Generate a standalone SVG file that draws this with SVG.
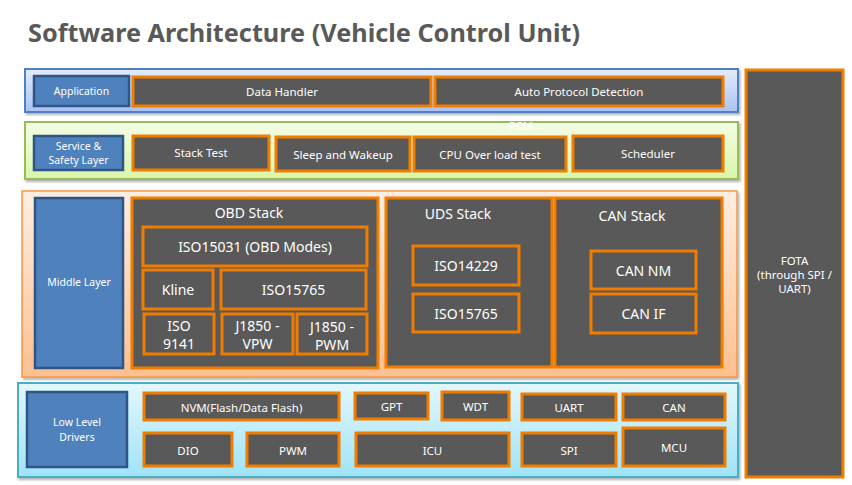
<svg xmlns="http://www.w3.org/2000/svg" width="852" height="485" viewBox="0 0 852 485">
<defs>
<linearGradient id="gApp" x1="0" y1="0" x2="0" y2="1"><stop offset="0" stop-color="#e3ecfd"/><stop offset="1" stop-color="#a8c3f3"/></linearGradient>
<linearGradient id="gSvc" x1="0" y1="0" x2="0" y2="1"><stop offset="0" stop-color="#f4fce6"/><stop offset="1" stop-color="#d9f6a9"/></linearGradient>
<linearGradient id="gMid" x1="0" y1="0" x2="0" y2="1"><stop offset="0" stop-color="#fdeee2"/><stop offset="1" stop-color="#fbc090"/></linearGradient>
<linearGradient id="gLow" x1="0" y1="0" x2="0" y2="1"><stop offset="0" stop-color="#e3f7fd"/><stop offset="1" stop-color="#9fe3f7"/></linearGradient>
<filter id="sh" x="-5%" y="-10%" width="110%" height="125%"><feDropShadow dx="1.5" dy="2" stdDeviation="1.2" flood-color="#000" flood-opacity="0.3"/></filter>
</defs>
<style>
.t{font-family:"Noto Sans","Open Sans","DejaVu Sans",sans-serif;fill:#ffffff;text-anchor:middle;dominant-baseline:central}
.s{font-size:11.5px}
.l{font-size:10.5px}
.m{font-size:14px}
.b{fill:#595959;stroke:#f07c00;stroke-width:3}
.lab{fill:#4f81bd;stroke:#2f5587;stroke-width:2.5}
</style>
<rect width="852" height="485" fill="#ffffff"/>
<text x="28" y="42" font-family="'Noto Sans','Open Sans',sans-serif" font-weight="bold" font-size="25" fill="#595959" textLength="552" lengthAdjust="spacingAndGlyphs">Software Architecture (Vehicle Control Unit)</text>

<g id="layer-application">
<rect x="25" y="69" width="713" height="43" fill="url(#gApp)" stroke="#4f81bd" stroke-width="2" filter="url(#sh)"/>
</g>
<g id="layer-service">
<rect x="25" y="122" width="713" height="57" fill="url(#gSvc)" stroke="#9bbb59" stroke-width="2" filter="url(#sh)"/>
</g>
<text class="t" x="521" y="125" font-size="11">PCM</text>
<g id="layer-middle">
<rect x="22" y="191" width="715" height="186" fill="url(#gMid)" stroke="#f79646" stroke-width="1.5" filter="url(#sh)"/>
</g>
<g id="layer-low">
<rect x="18" y="383" width="720" height="94" fill="url(#gLow)" stroke="#4bacc6" stroke-width="2" filter="url(#sh)"/>
</g>

<g id="application"><rect class="lab" x="34" y="76" width="95" height="30"/><text class="t l" x="81.5" y="91">Application</text></g>
<g id="data-handler"><rect class="b" x="133" y="77" width="298" height="29"/><text class="t s" x="282" y="91.5">Data Handler</text></g>
<g id="auto-protocol"><rect class="b" x="435" y="77" width="288" height="29"/><text class="t s" x="579" y="91.5">Auto Protocol Detection</text></g>

<g id="service-safety"><rect class="lab" x="34" y="136" width="89" height="34"/><text class="t l" x="78.5" y="146">Service &amp;</text><text class="t l" x="78.5" y="160">Safety Layer</text></g>
<g id="stack-test"><rect class="b" x="133" y="136" width="136" height="34"/><text class="t s" x="201" y="152.5">Stack Test</text></g>
<g id="sleep-wakeup"><rect class="b" x="276" y="137" width="134" height="34"/><text class="t s" x="343" y="154">Sleep and Wakeup</text></g>
<g id="cpu-overload"><rect class="b" x="414" y="137" width="152" height="34"/><text class="t s" x="490" y="154.5">CPU Over load test</text></g>
<g id="scheduler"><rect class="b" x="573" y="136" width="150" height="35"/><text class="t s" x="648" y="153.5">Scheduler</text></g>

<g id="fota"><rect class="b" x="746" y="70" width="97" height="407"/><text class="t s" x="794.5" y="260">FOTA</text><text class="t s" x="794.5" y="274">(through SPI /</text><text class="t s" x="794.5" y="288">UART)</text></g>

<g id="middle-layer"><rect class="lab" x="35" y="198" width="88" height="170"/><text class="t l" x="79" y="282">Middle Layer</text></g>
<g id="obd-stack"><rect class="b" x="132" y="198" width="246" height="170"/><text class="t m" x="249" y="212">OBD Stack</text></g>
<g id="iso15031"><rect class="b" x="143" y="227" width="224" height="39"/><text class="t m" x="255" y="246">ISO15031 (OBD Modes)</text></g>
<g id="kline"><rect class="b" x="143" y="270" width="70" height="39"/><text class="t m" x="178" y="289.5">Kline</text></g>
<g id="iso15765-obd"><rect class="b" x="221" y="270" width="145" height="39"/><text class="t m" x="293.5" y="289.5">ISO15765</text></g>
<g id="iso9141"><rect class="b" x="144" y="314" width="70" height="40"/><text class="t m" x="179" y="325">ISO</text><text class="t m" x="179" y="343">9141</text></g>
<g id="j1850-vpw"><rect class="b" x="222" y="314" width="71" height="40"/><text class="t m" x="257.5" y="325">J1850 -</text><text class="t m" x="257.5" y="343">VPW</text></g>
<g id="j1850-pwm"><rect class="b" x="297" y="314" width="70" height="40"/><text class="t m" x="332" y="326">J1850 -</text><text class="t m" x="332" y="344">PWM</text></g>

<g id="uds-stack"><rect class="b" x="386" y="198" width="166" height="169"/><text class="t m" x="458" y="213">UDS Stack</text></g>
<g id="iso14229"><rect class="b" x="413" y="246" width="106" height="39"/><text class="t m" x="466" y="265">ISO14229</text></g>
<g id="iso15765-uds"><rect class="b" x="413" y="294" width="106" height="38"/><text class="t m" x="466" y="313">ISO15765</text></g>
<g id="can-stack"><rect class="b" x="555" y="198" width="167" height="169"/><text class="t m" x="632" y="215">CAN Stack</text></g>
<g id="can-nm"><rect class="b" x="591" y="251" width="105" height="38"/><text class="t m" x="643.5" y="270">CAN NM</text></g>
<g id="can-if"><rect class="b" x="591" y="294" width="105" height="39"/><text class="t m" x="643.5" y="313">CAN IF</text></g>

<g id="low-level-drivers"><rect class="lab" x="27" y="392" width="100" height="75"/><text class="t l" x="77" y="422">Low Level</text><text class="t l" x="77" y="437">Drivers</text></g>
<g id="nvm"><rect class="b" x="144" y="393" width="195" height="27"/><text class="t s" x="241.5" y="407">NVM(Flash/Data Flash)</text></g>
<g id="gpt"><rect class="b" x="355" y="393" width="73" height="26"/><text class="t s" x="391.5" y="406">GPT</text></g>
<g id="wdt"><rect class="b" x="442" y="392" width="67" height="28"/><text class="t s" x="475.5" y="406">WDT</text></g>
<g id="uart"><rect class="b" x="522" y="394" width="94" height="26"/><text class="t s" x="569" y="407.5">UART</text></g>
<g id="can"><rect class="b" x="623" y="394" width="102" height="26"/><text class="t s" x="674" y="407.5">CAN</text></g>
<g id="dio"><rect class="b" x="144" y="433" width="88" height="33"/><text class="t s" x="188" y="450">DIO</text></g>
<g id="pwm"><rect class="b" x="247" y="433" width="92" height="33"/><text class="t s" x="293" y="450">PWM</text></g>
<g id="icu"><rect class="b" x="356" y="433" width="153" height="33"/><text class="t s" x="432.5" y="450">ICU</text></g>
<g id="spi"><rect class="b" x="522" y="433" width="94" height="33"/><text class="t s" x="569" y="450">SPI</text></g>
<g id="mcu"><rect class="b" x="623" y="428" width="102" height="38"/><text class="t s" x="674" y="447">MCU</text></g>
<g id="connectors"/>
</svg>
